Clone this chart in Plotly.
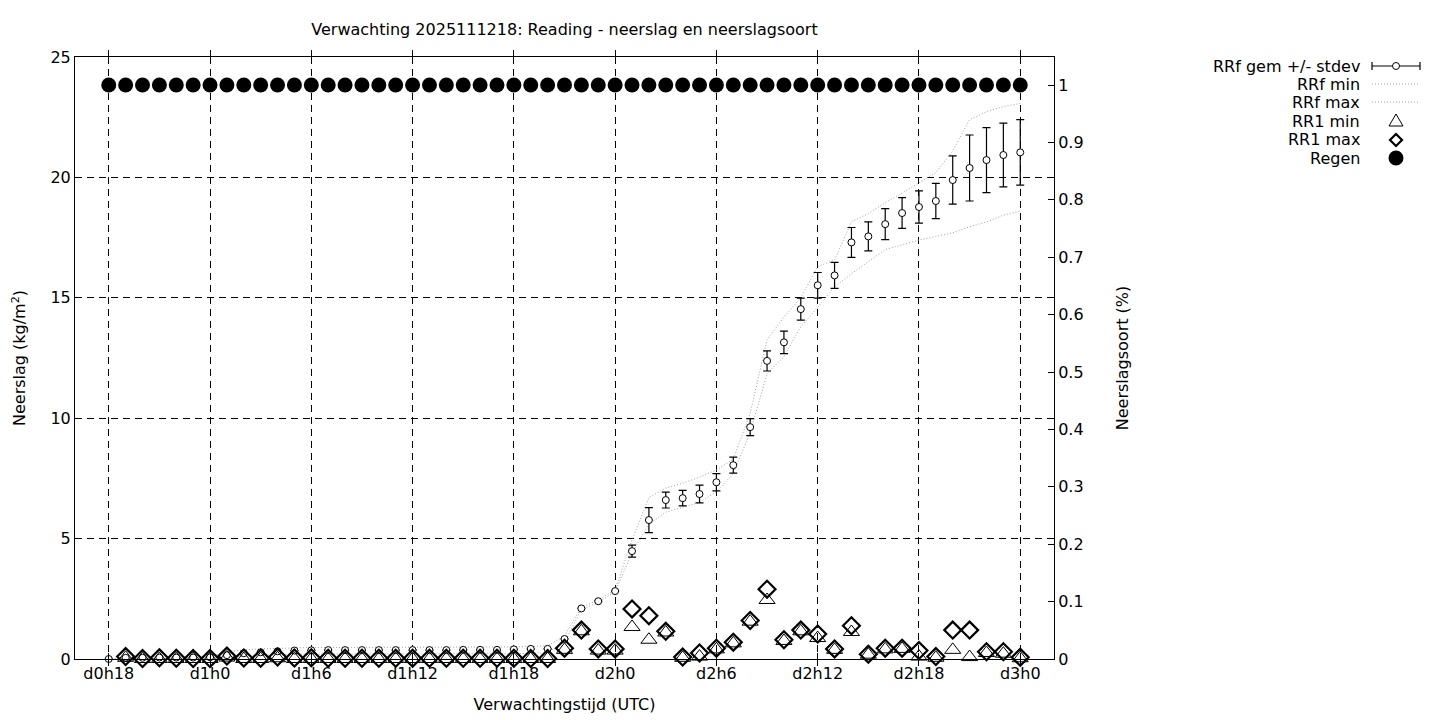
"""Verwachting neerslag en neerslagsoort (gnuplot-stijl) in Plotly."""

import plotly.graph_objects as go

# uren vanaf d0h0; metingen elk uur van d0h18 t/m d3h0
uren = list(range(18, 73))
uren_rr1 = list(range(19, 73))

tick_uren = [18, 24, 30, 36, 42, 48, 54, 60, 66, 72]
tick_labels = ["d0h18", "d1h0", "d1h6", "d1h12", "d1h18",
               "d2h0", "d2h6", "d2h12", "d2h18", "d3h0"]

# RRf: cumulatieve neerslag (kg/m2), d0h18 .. d3h0
rrf_gem = [0.00, 0.05, 0.05, 0.06, 0.06, 0.06, 0.07, 0.16, 0.24, 0.28,
           0.32, 0.35, 0.36, 0.37, 0.37, 0.37, 0.37, 0.37, 0.37, 0.37,
           0.37, 0.38, 0.38, 0.38, 0.40, 0.42, 0.42, 0.83, 2.10, 2.40,
           2.82, 4.48, 5.77, 6.60, 6.68, 6.85, 7.34, 8.05, 9.63, 12.38,
           13.15, 14.53, 15.52, 15.93, 17.30, 17.55, 18.06, 18.52, 18.77, 19.02,
           19.89, 20.39, 20.72, 20.93, 21.04]
rrf_std = [0.00, 0.00, 0.00, 0.00, 0.00, 0.00, 0.00, 0.00, 0.00, 0.00,
           0.00, 0.00, 0.00, 0.00, 0.00, 0.00, 0.00, 0.00, 0.00, 0.00,
           0.00, 0.00, 0.00, 0.00, 0.00, 0.00, 0.00, 0.00, 0.00, 0.00,
           0.00, 0.25, 0.52, 0.33, 0.32, 0.37, 0.36, 0.33, 0.35, 0.42,
           0.47, 0.46, 0.53, 0.54, 0.62, 0.60, 0.64, 0.64, 0.67, 0.73,
           1.00, 1.37, 1.35, 1.32, 1.36]
rrf_min = [0.00, 0.02, 0.02, 0.03, 0.03, 0.03, 0.03, 0.08, 0.12, 0.15,
           0.18, 0.20, 0.20, 0.20, 0.20, 0.20, 0.20, 0.20, 0.20, 0.20,
           0.20, 0.20, 0.20, 0.21, 0.22, 0.24, 0.26, 0.70, 2.05, 2.35,
           2.80, 4.40, 5.60, 6.10, 6.30, 6.50, 6.95, 7.70, 9.40, 11.85,
           12.55, 13.80, 14.60, 15.45, 16.00, 16.50, 17.00, 17.20, 17.40, 17.55,
           17.70, 17.95, 18.15, 18.43, 18.60]
rrf_max = [0.00, 0.08, 0.08, 0.10, 0.10, 0.10, 0.12, 0.30, 0.38, 0.42,
           0.45, 0.47, 0.48, 0.48, 0.48, 0.48, 0.48, 0.48, 0.48, 0.48,
           0.48, 0.48, 0.48, 0.49, 0.50, 0.52, 0.55, 0.95, 2.15, 2.45,
           2.87, 4.94, 6.70, 7.10, 7.30, 7.55, 7.85, 8.30, 10.20, 13.25,
           14.20, 15.00, 16.30, 16.57, 18.15, 18.50, 18.95, 19.35, 19.77, 20.20,
           21.10, 22.40, 22.73, 22.94, 23.07]

# RR1: uurlijkse neerslag (kg/m2), d0h19 .. d3h0
rr1_min = [0.05, 0.00, 0.00, 0.00, 0.00, 0.00, 0.06, 0.00, 0.00, 0.03,
           0.00, 0.00, 0.00, 0.00, 0.00, 0.00, 0.00, 0.00, 0.00, 0.00,
           0.00, 0.00, 0.00, 0.00, 0.00, 0.00, 0.38, 1.15, 0.35, 0.35,
           1.33, 0.80, 1.10, 0.05, 0.10, 0.40, 0.65, 1.55, 2.45, 0.75,
           1.15, 0.87, 0.38, 1.12, 0.18, 0.40, 0.42, 0.10, 0.05, 0.38,
           0.08, 0.25, 0.22, 0.03]
rr1_max = [0.10, 0.02, 0.05, 0.03, 0.02, 0.02, 0.12, 0.04, 0.03, 0.08,
           0.04, 0.05, 0.03, 0.03, 0.03, 0.03, 0.03, 0.03, 0.03, 0.03,
           0.03, 0.03, 0.03, 0.03, 0.02, 0.02, 0.45, 1.20, 0.42, 0.42,
           2.08, 1.80, 1.15, 0.08, 0.25, 0.45, 0.70, 1.60, 2.90, 0.80,
           1.20, 1.04, 0.42, 1.38, 0.20, 0.45, 0.45, 0.35, 0.10, 1.20,
           1.20, 0.30, 0.30, 0.07]

# neerslagsoort: fractie regen
regen = [1] * 55

FONT = "DejaVu Sans"
FS = 16
GRID_DASH = "7px,5px"
DOT_COLOR = "#a0a0a0"

# de pagina heeft 8px body-marge; figuur daarom 8px kleiner
OFF = 8
W, H = 1440 - OFF, 720 - OFF
# plotgebied in schermpixels
L, R, T, B = 75, 1054, 57, 659


def paper(px, py):
    """Schermpixel -> paper-coordinaten (voor de legenda)."""
    return (px - L) / (R - L), (B - py) / (B - T)


fig = go.Figure()

fig.add_trace(go.Scatter(
    x=uren, y=rrf_min, mode="lines", name="RRf min",
    line=dict(color=DOT_COLOR, width=1, dash="1px,2px"),
))
fig.add_trace(go.Scatter(
    x=uren, y=rrf_max, mode="lines", name="RRf max",
    line=dict(color=DOT_COLOR, width=1, dash="1px,2px"),
))
fig.add_trace(go.Scatter(
    x=uren, y=rrf_gem, mode="markers", name="RRf gem +/- stdev",
    cliponaxis=False,
    marker=dict(symbol="circle", size=7, color="white",
                line=dict(color="black", width=1)),
    error_y=dict(type="data", array=rrf_std, color="black",
                 thickness=1.2, width=4),
))
fig.add_trace(go.Scatter(
    x=uren_rr1, y=rr1_min, mode="markers", name="RR1 min",
    cliponaxis=False,
    marker=dict(symbol="triangle-up-open", size=14, color="black",
                line=dict(width=1)),
))
fig.add_trace(go.Scatter(
    x=uren_rr1, y=rr1_max, mode="markers", name="RR1 max",
    cliponaxis=False,
    marker=dict(symbol="diamond-open", size=13, color="black",
                line=dict(width=2.2)),
))
fig.add_trace(go.Scatter(
    x=uren, y=regen, mode="markers", name="Regen", yaxis="y2",
    marker=dict(symbol="circle", size=15, color="black"),
))

axis_common = dict(
    showline=True, linecolor="black", linewidth=1,
    ticks="inside", ticklen=6, tickcolor="black",
    zeroline=False, automargin=False,
    tickfont=dict(family=FONT, size=FS, color="black"),
)

fig.update_layout(
    width=W, height=H,
    margin=dict(l=L - OFF, r=W - (R - OFF), t=T - OFF, b=H - (B - OFF)),
    paper_bgcolor="white", plot_bgcolor="white",
    showlegend=False,
    font=dict(family=FONT, size=FS, color="black"),
    title=dict(
        text="Verwachting 2025111218: Reading - neerslag en neerslagsoort",
        x=0.5, xref="paper", xanchor="center",
        y=1 - (29 - OFF) / H, yref="container", yanchor="middle",
        font=dict(family=FONT, size=FS, color="black"),
    ),
    xaxis=dict(
        range=[16, 74], tickvals=tick_uren, ticktext=tick_labels,
        showgrid=True, gridcolor="black", gridwidth=1, griddash=GRID_DASH,
        mirror="allticks",
        title=dict(text="Verwachtingstijd (UTC)", standoff=16,
                   font=dict(family=FONT, size=FS)),
        **axis_common,
    ),
    yaxis=dict(
        range=[0, 25], dtick=5,
        showgrid=True, gridcolor="black", gridwidth=1, griddash=GRID_DASH,
        mirror="allticks",
        title=dict(text="Neerslag (kg/m<sup>2</sup>)", standoff=20,
                   font=dict(family=FONT, size=FS)),
        **axis_common,
    ),
    yaxis2=dict(
        overlaying="y", side="right", anchor="x",
        range=[0, 1.0488],
        tickvals=[0, 0.1, 0.2, 0.3, 0.4, 0.5, 0.6, 0.7, 0.8, 0.9, 1],
        ticktext=["0", "0.1", "0.2", "0.3", "0.4", "0.5",
                  "0.6", "0.7", "0.8", "0.9", "1"],
        showgrid=False,
        title=dict(text="Neerslagsoort (%)", standoff=34,
                   font=dict(family=FONT, size=FS)),
        **axis_common,
    ),
)

# legenda in gnuplot-stijl: tekst rechts uitgelijnd, symbool erachter
legend_rows = ["RRf gem +/- stdev", "RRf min", "RRf max",
               "RR1 min", "RR1 max", "Regen"]
row_y = [66, 84, 102, 121, 140, 158]
text_x = 1362
sx0, sx1, sxm = 1372, 1420, 1396

for label, py in zip(legend_rows, row_y):
    ax, ay = paper(text_x, py)
    fig.add_annotation(
        x=ax, y=ay, xref="paper", yref="paper", text=label,
        showarrow=False, xanchor="right", yanchor="middle",
        font=dict(family=FONT, size=FS, color="black"),
    )

shapes = []
# errorbar-sample
y0 = row_y[0]
a, b = paper(sx0, y0)
c, d = paper(sx1, y0)
shapes.append(dict(type="line", xref="paper", yref="paper", x0=a, y0=b, x1=c, y1=d,
                   line=dict(color="black", width=1.2)))
for sx in (sx0, sx1):
    a, b = paper(sx, y0 - 4)
    c, d = paper(sx, y0 + 4)
    shapes.append(dict(type="line", xref="paper", yref="paper", x0=a, y0=b, x1=c, y1=d,
                       line=dict(color="black", width=1.2)))
a, b = paper(sxm - 3.5, y0 - 3.5)
c, d = paper(sxm + 3.5, y0 + 3.5)
shapes.append(dict(type="circle", xref="paper", yref="paper", x0=a, y0=d, x1=c, y1=b,
                   fillcolor="white", line=dict(color="black", width=1)))
# gestippelde lijnen
for py in row_y[1:3]:
    a, b = paper(sx0, py)
    c, d = paper(sx1, py)
    shapes.append(dict(type="line", xref="paper", yref="paper", x0=a, y0=b, x1=c, y1=d,
                       line=dict(color=DOT_COLOR, width=1, dash="1px,2px")))
# driehoek
py = row_y[3]
p1 = paper(sxm, py - 7)
p2 = paper(sxm - 7, py + 5)
p3 = paper(sxm + 7, py + 5)
shapes.append(dict(type="path", xref="paper", yref="paper",
                   path=f"M {p1[0]},{p1[1]} L {p2[0]},{p2[1]} L {p3[0]},{p3[1]} Z",
                   line=dict(color="black", width=1)))
# ruit
py = row_y[4]
q1 = paper(sxm, py - 6)
q2 = paper(sxm + 6, py)
q3 = paper(sxm, py + 6)
q4 = paper(sxm - 6, py)
shapes.append(dict(type="path", xref="paper", yref="paper",
                   path=(f"M {q1[0]},{q1[1]} L {q2[0]},{q2[1]} "
                         f"L {q3[0]},{q3[1]} L {q4[0]},{q4[1]} Z"),
                   line=dict(color="black", width=2.2)))
# gevulde cirkel
py = row_y[5]
a, b = paper(sxm - 7.5, py - 7.5)
c, d = paper(sxm + 7.5, py + 7.5)
shapes.append(dict(type="circle", xref="paper", yref="paper", x0=a, y0=d, x1=c, y1=b,
                   fillcolor="black", line=dict(color="black", width=0)))

fig.update_layout(shapes=shapes)

fig.write_html("out.html")
